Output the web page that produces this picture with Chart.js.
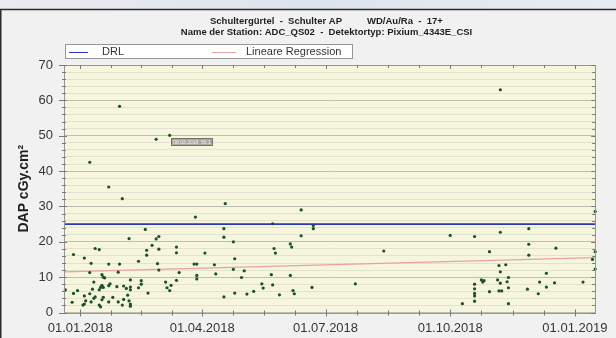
<!DOCTYPE html>
<html>
<head>
<meta charset="utf-8">
<script src="https://cdn.jsdelivr.net/npm/chart.js@4.4.1/dist/chart.umd.min.js"></script>
<style>
  html, body { margin: 0; padding: 0; background: #f1f1f1; }
  #wrap { width: 616px; height: 338px; position: relative; }
</style>
</head>
<body>
<div id="wrap"><canvas id="c" width="616" height="338"></canvas></div>
<script>
// ---- texts ----
const titleLine1Left = 'Schultergürtel  -  Schulter AP';
const titleLine1Right = 'WD/Au/Ra  -  17+';
const titleLine2 = 'Name der Station: ADC_QS02  -  Detektortyp: Pixium_4343E_CSI';
const yAxisTitle = 'DAP cGy.cm²';
const drlLabel = 'DRL';
const regressionLabel = 'Lineare Regression';

// ---- axes ----
const xTickLabels = ['01.01.2018', '01.04.2018', '01.07.2018', '01.10.2018', '01.01.2019'];
const axisStart = '2017-12-20';
const axisEnd = '2019-01-16';
const yMin = 0;
const yMax = 70;

// ---- measurements ----
const measureDates = [
  '2017-12-21','2017-12-27','2017-12-27','2017-12-26','2017-12-30',
  '2018-01-03','2018-01-04','2018-01-04','2018-01-04','2018-01-05',
  '2018-01-08','2018-01-08','2018-01-08','2018-01-09','2018-01-09',
  '2018-01-10','2018-01-11','2018-01-11','2018-01-12','2018-01-12',
  '2018-01-15','2018-01-15','2018-01-15','2018-01-16','2018-01-16',
  '2018-01-17','2018-01-17','2018-01-18','2018-01-18','2018-01-18',
  '2018-01-17','2018-01-19','2018-01-22','2018-01-22','2018-01-22',
  '2018-01-22','2018-01-23','2018-01-25','2018-01-28','2018-01-29',
  '2018-01-29','2018-01-30','2018-01-30','2018-02-01','2018-02-01',
  '2018-02-02','2018-02-02','2018-02-04','2018-02-05','2018-02-06',
  '2018-02-06','2018-02-07','2018-02-07','2018-02-07','2018-02-07',
  '2018-02-07','2018-02-13','2018-02-13','2018-02-15','2018-02-15',
  '2018-02-18','2018-02-19','2018-02-19','2018-02-20','2018-02-23',
  '2018-02-26','2018-02-26','2018-02-27','2018-02-28','2018-02-28',
  '2018-02-28','2018-03-05','2018-03-06','2018-03-08','2018-03-08',
  '2018-03-09','2018-03-13','2018-03-13','2018-03-13','2018-03-15',
  '2018-03-26','2018-03-27','2018-03-28','2018-03-28','2018-03-28',
  '2018-04-03','2018-04-10','2018-04-11','2018-04-17','2018-04-17',
  '2018-04-17','2018-04-18','2018-04-24','2018-04-24','2018-04-25',
  '2018-04-25','2018-04-30','2018-05-02','2018-05-04','2018-05-09',
  '2018-05-15','2018-05-16','2018-05-22','2018-05-23','2018-05-23',
  '2018-05-24','2018-05-25','2018-05-28','2018-06-05','2018-06-05',
  '2018-06-06','2018-06-07','2018-06-08','2018-06-13','2018-06-13',
  '2018-06-21','2018-06-22','2018-06-22','2018-07-23','2018-08-13',
  '2018-10-01','2018-10-10','2018-10-19','2018-10-19','2018-10-19',
  '2018-10-19','2018-10-19','2018-10-19','2018-10-24','2018-10-25',
  '2018-10-26','2018-10-30','2018-10-30','2018-11-05','2018-11-06',
  '2018-11-06','2018-11-07','2018-11-07','2018-11-07','2018-11-07',
  '2018-11-08','2018-11-11','2018-11-13','2018-11-12','2018-11-13',
  '2018-11-13','2018-11-27','2018-11-28','2018-11-28','2018-11-28',
  '2018-12-05','2018-12-06','2018-12-11','2018-12-11','2018-12-17',
  '2018-12-18','2019-01-07','2019-01-14','2019-01-16','2019-01-16',
  '2019-01-16'
];
const dapValues = [
  6.4, 16.4, 5.4, 2.9, 6.2,
  2.1, 15.4, 4.7, 2.4, 3.3,
  42.5, 11.3, 5.3, 13.9, 3.0,
  6.6, 8.6, 4.0, 18.1, 4.4,
  17.8, 6.4, 2.1, 7.1, 1.6,
  10.7, 7.7, 10.0, 7.1, 4.3,
  3.6, 9.8, 35.5, 13.7, 7.6,
  3.0, 8.1, 4.3, 7.3, 11.4,
  3.0, 58.3, 13.7, 32.2, 2.1,
  7.5, 3.7, 6.8, 4.9, 20.9,
  3.3, 6.4, 7.2, 9.2, 2.4,
  1.8, 14.5, 7.0, 8.0, 9.0,
  23.5, 17.6, 16.2, 5.5, 19.0,
  20.8, 49.0, 13.8, 21.5, 17.9,
  12.0, 8.6, 7.0, 6.2, 50.1,
  7.7, 18.5, 16.9, 9.1, 11.3,
  13.7, 27.0, 13.7, 10.5, 9.5,
  16.8, 13.5, 10.9, 23.7, 21.3,
  4.4, 30.8, 20.0, 12.2, 15.2,
  5.5, 9.9, 11.8, 5.2, 6.0,
  8.1, 6.9, 10.7, 25.1, 7.8,
  18.1, 16.8, 5.0, 19.4, 10.5,
  18.5, 6.2, 5.3, 29.0, 21.7,
  7.1, 24.6, 23.7, 8.1, 17.4,
  21.8, 2.5, 21.5, 8.0, 6.7,
  5.4, 4.7, 3.2, 9.2, 8.6,
  9.0, 17.2, 5.9, 9.2, 13.3,
  6.1, 63.0, 22.7, 11.5, 8.3,
  6.1, 13.5, 9.9, 8.7, 7.0,
  2.5, 6.6, 23.7, 19.3, 16.2,
  5.3, 8.6, 11.1, 7.2, 8.4,
  18.2, 8.6, 15.0, 28.6, 17.2,
  12.3
];

// reference level and regression line (values at axis start / axis end)
const drlValue = 25;
const regressionEnds = [11.5, 15.5];

// the measurement carrying a value tag on the plot
const taggedValue = 50.1;

// ---- helpers ----
const DAY = 86400000;
const epoch = Date.UTC(2018, 0, 1);
function isoToDay(s) {
  const [y, m, d] = s.split('-').map(Number);
  return (Date.UTC(y, m - 1, d) - epoch) / DAY;
}
function labelToDay(s) {
  const [d, m, y] = s.split('.').map(Number);
  return (Date.UTC(y, m - 1, d) - epoch) / DAY;
}
function dayToLabel(n) {
  const dt = new Date(epoch + n * DAY);
  const p = v => String(v).padStart(2, '0');
  return p(dt.getUTCDate()) + '.' + p(dt.getUTCMonth() + 1) + '.' + dt.getUTCFullYear();
}

const xMin = isoToDay(axisStart);
const xMax = isoToDay(axisEnd);
const majorDays = xTickLabels.map(labelToDay);
// four sub-intervals between labelled dates
const allTicks = [];
for (let i = 0; i < majorDays.length; i++) {
  allTicks.push({ value: majorDays[i], major: true });
  if (i < majorDays.length - 1) {
    const step = (majorDays[i + 1] - majorDays[i]) / 4;
    for (let k = 1; k < 4; k++) allTicks.push({ value: majorDays[i] + k * step, major: false });
  }
}
const majorSet = new Map(majorDays.map((d, i) => [d, xTickLabels[i]]));

const scatterPoints = measureDates.map((d, i) => ({ x: isoToDay(d), y: dapValues[i] }));
const FONT = "'Liberation Sans', Arial, Helvetica, sans-serif";

const PLOT_BG = 'rgb(246,245,222)';
const DRL_COLOR = 'rgb(45,55,190)';
const REG_COLOR = 'rgb(236,160,160)';
const DOT_COLOR = 'rgb(28,80,40)';

// page frame, plot background
const backdrop = {
  id: 'backdrop',
  beforeDraw(chart) {
    const { ctx, chartArea: a } = chart;
    ctx.save();
    ctx.fillStyle = '#f1f1f1';
    ctx.fillRect(0, 0, chart.width, chart.height);
    const g = ctx.createLinearGradient(0, 0, chart.width, 0);
    g.addColorStop(0, 'rgb(236,234,240)');
    g.addColorStop(0.5, 'rgb(222,228,238)');
    g.addColorStop(1, 'rgb(232,236,242)');
    ctx.fillStyle = g;
    ctx.fillRect(0, 0, chart.width, 9);
    ctx.strokeStyle = '#2a2a2a';
    ctx.lineWidth = 1.5;
    ctx.beginPath();
    ctx.moveTo(0, 9.5); ctx.lineTo(chart.width, 9.5);
    ctx.moveTo(0.75, 9.5); ctx.lineTo(0.75, chart.height);
    ctx.stroke();
    ctx.fillStyle = PLOT_BG;
    ctx.fillRect(a.left, a.top, a.right - a.left, a.bottom - a.top);
    ctx.restore();
  }
};

// plot border, tick marks, titles, legend and value tag
const decorations = {
  id: 'decorations',
  afterDraw(chart) {
    const { ctx, chartArea: a, scales } = chart;
    const xs = scales.x, ys = scales.y;
    ctx.save();

    // border
    ctx.strokeStyle = 'rgb(150,150,150)';
    ctx.lineWidth = 1;
    ctx.strokeRect(Math.round(a.left) + 0.5, Math.round(a.top) + 0.5,
      Math.round(a.right - a.left), Math.round(a.bottom - a.top));

    // tick marks on all four sides
    ctx.strokeStyle = 'rgb(120,120,120)';
    ctx.beginPath();
    xs.ticks.forEach(t => {
      const px = Math.round(xs.getPixelForValue(t.value)) + 0.5;
      const big = majorSet.has(t.value);
      ctx.moveTo(px, a.bottom - (big ? 3 : 2)); ctx.lineTo(px, a.bottom + (big ? 4 : 3));
      ctx.moveTo(px, a.top); ctx.lineTo(px, a.top + (big ? 4 : 3));
    });
    ys.ticks.forEach(t => {
      const py = Math.round(ys.getPixelForValue(t.value)) + 0.5;
      const big = t.value % 10 === 0;
      ctx.moveTo(a.left - (big ? 5 : 2), py); ctx.lineTo(a.left + (big ? 3 : 2), py);
      ctx.moveTo(a.right - (big ? 4 : 3), py); ctx.lineTo(a.right, py);
    });
    ctx.stroke();

    // title
    ctx.fillStyle = '#1e1e1e';
    ctx.font = 'bold 9.5px ' + FONT;
    ctx.textBaseline = 'middle';
    ctx.textAlign = 'left';
    ctx.fillText(titleLine1Left, 210, 21);
    ctx.fillText(titleLine1Right, 367, 21);
    ctx.textAlign = 'center';
    ctx.fillText(titleLine2, 326.5, 32);

    // legend
    const lx = 65.5, ly = 44.5, lw = 287, lh = 14;
    ctx.fillStyle = '#ffffff';
    ctx.fillRect(lx, ly, lw, lh);
    ctx.strokeStyle = 'rgb(150,150,150)';
    ctx.strokeRect(lx, ly, lw, lh);
    const my = ly + lh / 2;
    const entries = chart.data.datasets.filter(d => d.showInLegend);
    const pos = [[69, 88, 102], [212, 236, 246]];
    entries.forEach((d, i) => {
      ctx.strokeStyle = d.borderColor;
      ctx.lineWidth = 1;
      ctx.beginPath();
      ctx.moveTo(pos[i][0], Math.round(my) + 0.5); ctx.lineTo(pos[i][1], Math.round(my) + 0.5);
      ctx.stroke();
      ctx.fillStyle = '#333';
      ctx.font = '11px ' + FONT;
      ctx.textAlign = 'left';
      ctx.textBaseline = 'middle';
      ctx.fillText(d.label, pos[i][2], my + 0.5);
    });

    // value tag next to one measurement
    const idx = dapValues.indexOf(taggedValue);
    if (idx >= 0) {
      const px = xs.getPixelForValue(scatterPoints[idx].x);
      const py = ys.getPixelForValue(scatterPoints[idx].y);
      const bx = Math.round(px) + 1.5, by = Math.round(py) + 3.5, bw = 41, bh = 7;
      ctx.fillStyle = 'rgb(168,168,156)';
      ctx.fillRect(bx, by, bw, bh);
      ctx.strokeStyle = 'rgb(115,115,105)';
      ctx.strokeRect(bx, by, bw, bh);
      ctx.fillStyle = '#f4f4f4';
      ctx.font = '5px ' + FONT;
      ctx.textAlign = 'center';
      ctx.textBaseline = 'middle';
      ctx.fillText(dayToLabel(scatterPoints[idx].x) + '  ' + taggedValue.toFixed(1), bx + bw / 2, by + bh / 2 + 0.5);
    }
    ctx.restore();
  }
};

new Chart(document.getElementById('c'), {
  data: {
    datasets: [
      {
        type: 'scatter',
        label: 'DAP',
        data: scatterPoints,
        pointRadius: 1.6,
        pointBorderWidth: 0,
        pointBackgroundColor: DOT_COLOR,
        pointBorderColor: DOT_COLOR,
        showInLegend: false
      },
      {
        type: 'line',
        label: drlLabel,
        data: [{ x: xMin, y: drlValue }, { x: xMax, y: drlValue }],
        borderColor: DRL_COLOR,
        borderWidth: 1.6,
        pointRadius: 0,
        showInLegend: true
      },
      {
        type: 'line',
        label: regressionLabel,
        data: [{ x: xMin, y: regressionEnds[0] }, { x: xMax, y: regressionEnds[1] }],
        borderColor: REG_COLOR,
        borderWidth: 1.2,
        pointRadius: 0,
        showInLegend: true
      }
    ]
  },
  options: {
    responsive: false,
    animation: false,
    devicePixelRatio: 1,
    clip: false,
    layout: { padding: { top: 65, right: 16, left: 0, bottom: 0 } },
    plugins: { legend: { display: false }, tooltip: { enabled: false }, title: { display: false } },
    scales: {
      x: {
        type: 'linear',
        min: xMin,
        max: xMax,
        afterBuildTicks(scale) { scale.ticks = allTicks.map(t => ({ value: t.value })); },
        afterFit(scale) { scale.height = 25.5; },
        ticks: {
          autoSkip: false,
          maxRotation: 0,
          padding: 8,
          color: '#363636',
          font: { family: FONT, size: 13 },
          callback: v => majorSet.get(v) || ''
        },
        grid: { display: false, drawTicks: false },
        border: { display: false }
      },
      y: {
        min: yMin,
        max: yMax,
        afterFit(scale) { scale.width = 64; },
        ticks: {
          stepSize: 2,
          autoSkip: false,
          padding: 11,
          color: '#363636',
          font: { family: FONT, size: 13 },
          callback: v => (v % 10 === 0 ? String(v) : '')
        },
        grid: {
          drawTicks: false,
          color: ctx => (ctx.tick && ctx.tick.value % 10 === 0) ? 'rgba(185,185,170,0.9)' : 'rgba(205,205,190,0.45)',
          lineWidth: 1
        },
        border: { display: false },
        title: {
          display: true,
          text: yAxisTitle,
          color: '#1e1e1e',
          font: { family: FONT, size: 14, weight: 'bold' },
          padding: { top: 15.5, bottom: 0 }
        }
      }
    }
  },
  plugins: [backdrop, decorations]
});
</script>
</body>
</html>
